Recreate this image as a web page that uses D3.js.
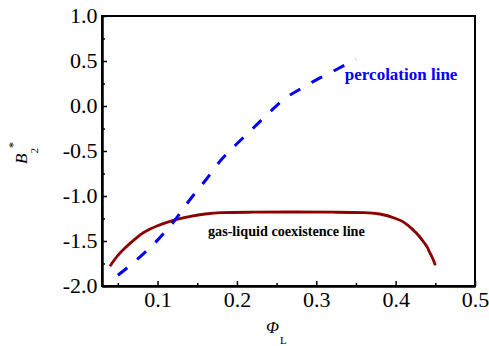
<!DOCTYPE html>
<html>
<head>
<meta charset="utf-8">
<script src="https://cdn.jsdelivr.net/npm/d3@7"></script>
<style>body { margin: 0; background: #fff; }</style>
</head>
<body>
<div class="svgContainer"></div>
<script>
// gas-liquid coexistence line (phi_L, B2*)
const coexPhi = [0.040, 0.050, 0.060, 0.070, 0.080, 0.090, 0.100, 0.120, 0.140, 0.160, 0.180, 0.220, 0.270, 0.320, 0.360, 0.380, 0.400, 0.410, 0.420, 0.430, 0.436, 0.440, 0.443, 0.446, 0.450];
const coexB2 = [-1.78, -1.66, -1.57, -1.49, -1.42, -1.37, -1.33, -1.27, -1.23, -1.20, -1.185, -1.18, -1.178, -1.18, -1.185, -1.20, -1.25, -1.29, -1.36, -1.45, -1.52, -1.57, -1.63, -1.68, -1.77];

// percolation line
const percPhi = [0.050, 0.080, 0.100, 0.120, 0.140, 0.160, 0.180, 0.200, 0.220, 0.240, 0.260, 0.280, 0.300, 0.320, 0.350];
const percB2 = [-1.88, -1.66, -1.49, -1.29, -1.05, -0.83, -0.60, -0.42, -0.25, -0.08, 0.08, 0.19, 0.29, 0.38, 0.52];

const xTicks = [0.1, 0.2, 0.3, 0.4, 0.5];
const xMinorTicks = [0.05, 0.15, 0.25, 0.35, 0.45];
const yTicks = [-2.0, -1.5, -1.0, -0.5, 0.0, 0.5, 1.0];
const yMinorTicks = [-1.75, -1.25, -0.75, -0.25, 0.25, 0.75];

const width = 489;
const height = 346;
const margin = {top: 16, right: 14, bottom: 60, left: 102};
const plotW = width - margin.left - margin.right;
const plotH = height - margin.top - margin.bottom;
const serif = 'Liberation Serif';

const svg = d3.select('.svgContainer').append('svg')
  .attr('width', width)
  .attr('height', height);

const g = svg.append('g')
  .attr('transform', 'translate(' + margin.left + ',' + margin.top + ')');

const scaleX = d3.scaleLinear().domain([0.03, 0.5]).range([0, plotW]);
const scaleY = d3.scaleLinear().domain([-2.0, 1.0]).range([plotH, 0]);

// frame
g.append('rect')
  .attr('width', plotW)
  .attr('height', plotH)
  .attr('fill', 'none')
  .attr('stroke', '#000')
  .attr('stroke-width', 2);

// axes, ticks pointing inward
const xAxis = d3.axisBottom(scaleX)
  .tickValues(xTicks)
  .tickSizeInner(-5).tickSizeOuter(0).tickPadding(7)
  .tickFormat(d => String(d));
const xMinor = d3.axisBottom(scaleX)
  .tickValues(xMinorTicks).tickSizeInner(-3).tickSizeOuter(0).tickFormat('');
const yAxis = d3.axisLeft(scaleY)
  .tickValues(yTicks)
  .tickSizeInner(-5).tickSizeOuter(0).tickPadding(4)
  .tickFormat(d => d.toFixed(1));
const yMinor = d3.axisLeft(scaleY)
  .tickValues(yMinorTicks).tickSizeInner(-3).tickSizeOuter(0).tickFormat('');

function styleAxis(sel) {
  sel.select('.domain').attr('stroke-width', 2);
  sel.selectAll('.tick line').attr('stroke-width', 1.5);
  // the original's digits are set wider than plain Times
  sel.selectAll('.tick text')
    .attr('font-family', serif)
    .attr('font-size', 20)
    .attr('transform', 'scale(1.1,1)')
    .attr('fill', '#000');
}

g.append('g').attr('transform', 'translate(0,' + plotH + ')').call(xAxis).call(styleAxis);
g.append('g').attr('transform', 'translate(0,' + plotH + ')').call(xMinor).call(styleAxis);
g.append('g').call(yAxis).call(styleAxis);
g.append('g').call(yMinor).call(styleAxis);

// lines
const coexData = coexPhi.map((p, i) => ({x: p, y: coexB2[i]}));
const percData = percPhi.map((p, i) => ({x: p, y: percB2[i]}));

const line = d3.line()
  .x(d => scaleX(d.x))
  .y(d => scaleY(d.y))
  .curve(d3.curveMonotoneX);

g.append('path')
  .datum(coexData)
  .attr('d', line)
  .attr('fill', 'none')
  .attr('stroke', '#8b0000')
  .attr('stroke-width', 2.8);

g.append('path')
  .datum(percData)
  .attr('d', line)
  .attr('fill', 'none')
  .attr('stroke', '#0000ff')
  .attr('stroke-width', 3)
  .attr('stroke-dasharray', '12,13');

// annotations
g.append('text')
  .attr('x', scaleX(0.336))
  .attr('y', scaleY(0.289))
  .attr('font-family', serif)
  .attr('font-size', 17)
  .attr('font-weight', 'bold')
  .attr('fill', '#0000ff')
  .text('percolation line');

g.append('text')
  .attr('x', scaleX(0.1635))
  .attr('y', scaleY(-1.444))
  .attr('font-family', serif)
  .attr('font-size', 14.2)
  .attr('font-weight', 'bold')
  .attr('fill', '#000')
  .text('gas-liquid coexistence line');

// axis titles
const yTitle = svg.append('text')
  .attr('transform', 'translate(27,164) rotate(-90)')
  .attr('font-family', serif)
  .attr('font-size', 17);
yTitle.append('tspan').attr('font-style', 'italic').text('B');
yTitle.append('tspan').attr('font-size', 11).attr('dy', 11).text('2');
yTitle.append('tspan').attr('font-size', 12).attr('dy', -21).text('*');

const xTitle = svg.append('text')
  .attr('x', 266)
  .attr('y', 333)
  .attr('font-family', serif)
  .attr('font-size', 17);
xTitle.append('tspan').attr('font-style', 'italic').text('Φ');
xTitle.append('tspan').attr('font-size', 11).attr('dy', 11).attr('dx', 1).text('L');
</script>
</body>
</html>
